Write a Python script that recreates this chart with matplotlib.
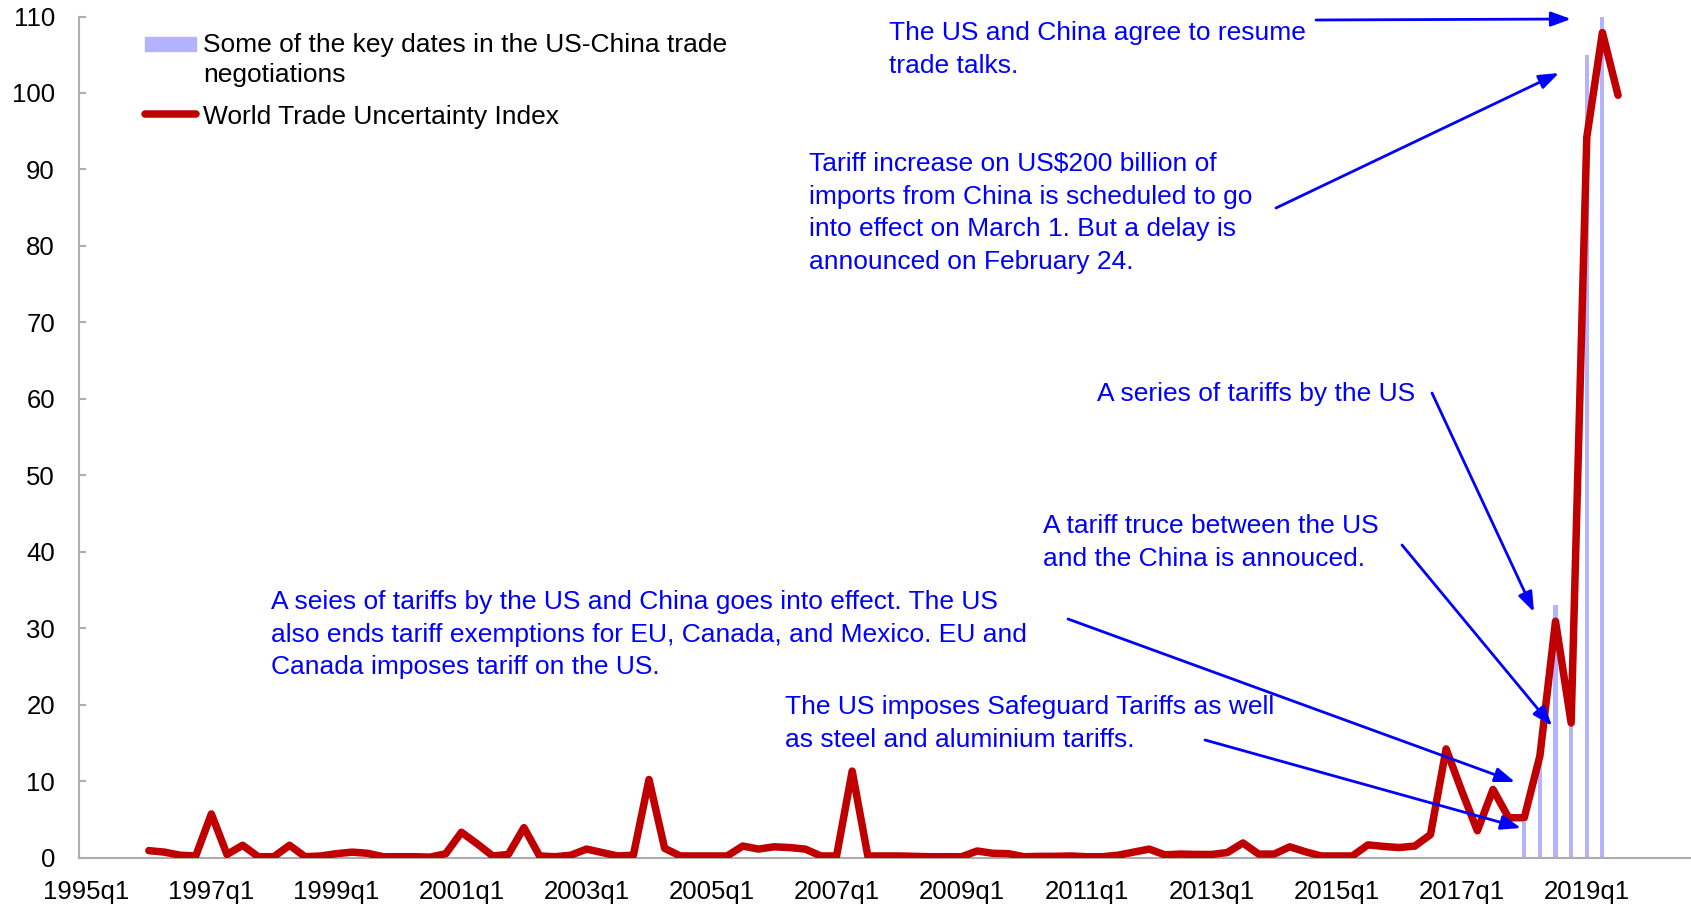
import matplotlib
matplotlib.use("Agg")
import matplotlib.pyplot as plt
from matplotlib.patches import Rectangle
from matplotlib.lines import Line2D
from matplotlib.legend_handler import HandlerPatch
import numpy as np

plt.rcParams['font.family'] = ['Liberation Sans', 'DejaVu Sans']

# ---------------- data ----------------
# category axis: quarters 1995q1 .. 2020q4
categories = [f"{y}q{q}" for y in range(1995, 2021) for q in range(1, 5)]

wtu_start = "1996q1"
wtu_values = [
    0.9, 0.7, 0.3, 0.2,        # 1996
    5.7, 0.4, 1.6, 0.1,        # 1997
    0.1, 1.6, 0.1, 0.2,        # 1998
    0.5, 0.7, 0.55, 0.1,       # 1999
    0.1, 0.1, 0.05, 0.5,       # 2000
    3.3, 1.8, 0.2, 0.4,        # 2001
    3.9, 0.2, 0.1, 0.3,        # 2002
    1.1, 0.65, 0.2, 0.3,       # 2003
    10.2, 1.2, 0.2, 0.2,       # 2004
    0.2, 0.2, 1.5, 1.1,        # 2005
    1.4, 1.3, 1.1, 0.2,        # 2006
    0.2, 11.3, 0.2, 0.2,       # 2007
    0.2, 0.15, 0.1, 0.1,       # 2008
    0.1, 0.85, 0.55, 0.5,      # 2009
    0.1, 0.15, 0.15, 0.2,      # 2010
    0.1, 0.1, 0.3, 0.7,        # 2011
    1.1, 0.35, 0.45, 0.4,      # 2012
    0.4, 0.65, 1.9, 0.45,      # 2013
    0.45, 1.4, 0.75, 0.2,      # 2014
    0.2, 0.2, 1.65, 1.45,      # 2015
    1.3, 1.5, 3.0, 14.2,       # 2016
    8.7, 3.5, 8.9, 5.2,        # 2017
    5.2, 13.3, 30.9, 17.6,     # 2018
    94.2, 107.9, 99.7,         # 2019
]

key_dates = ["2018q1", "2018q2", "2018q3", "2018q4", "2019q1", "2019q2"]
key_heights = [4.6, 13.0, 33.0, 17.5, 105.0, 110.0]

tick_labels = ["1995q1", "1997q1", "1999q1", "2001q1", "2003q1", "2005q1", "2007q1",
               "2009q1", "2011q1", "2013q1", "2015q1", "2017q1", "2019q1"]
y_ticks = [0, 10, 20, 30, 40, 50, 60, 70, 80, 90, 100, 110]

legend_labels = ["Some of the key dates in the US-China trade\nnegotiations",
                 "World Trade Uncertainty Index"]

annotation_texts = [
    "The US and China agree to resume\ntrade talks.",
    "Tariff increase on US$200 billion of\nimports from China is scheduled to go\n"
    "into effect on March 1. But a delay is\nannounced on February 24.",
    "A series of tariffs by the US",
    "A tariff truce between the US\nand the China is annouced.",
    "A seies of tariffs by the US and China goes into effect. The US\n"
    "also ends tariff exemptions for EU, Canada, and Mexico. EU and\n"
    "Canada imposes tariff on the US.",
    "The US imposes Safeguard Tariffs as well\nas steel and aluminium tariffs.",
]

# ---------------- layout ----------------
W, H = 1691, 907
AX_L, AX_R, AX_T, AX_B = 78.5, 1691.0, 16.5, 857.5
X0_PX, DX_PX = 86.3, 15.63          # pixel position of category 0 and step
Y_PX_PER_UNIT = (AX_B - AX_T) / 110.0

def px2data(px, py):
    return (px - X0_PX) / DX_PX, (AX_B - py) / Y_PX_PER_UNIT

# text anchor: (left px, first-line centre px)
text_pos = [(889, 31), (809, 162), (1097, 391.5), (1043, 524), (271, 600), (785, 705)]
# arrows: (tail px, head px)
arrow_pos = [((1316, 20), (1571, 19)),
             ((1276, 208), (1559, 73)),
             ((1432, 393), (1534, 612)),
             ((1402, 545), (1552, 726)),
             ((1068, 619), (1515, 782)),
             ((1205, 740), (1521, 828))]

BLUE = "#0000FF"
RED = "#C00000"
BAR = "#B3B3FF"
AXIS_GREY = "#ADADAD"
FS = 19

fig = plt.figure(figsize=(W / 100, H / 100), dpi=100)
ax = fig.add_axes([AX_L / W, 1 - AX_B / H, (AX_R - AX_L) / W, (AX_B - AX_T) / H])

idx = {c: i for i, c in enumerate(categories)}
wtu_x = idx[wtu_start] + np.arange(len(wtu_values))
key_x = [idx[d] for d in key_dates]

ax.bar(key_x, key_heights, width=0.26, color=BAR, zorder=1, linewidth=0)
ax.plot(wtu_x, wtu_values, color=RED, lw=5.4, solid_capstyle='round',
        solid_joinstyle='round', zorder=3)

ax.set_xlim(-0.5, (AX_R - X0_PX) / DX_PX)
ax.set_ylim(0, 110)
ax.set_yticks(y_ticks)
ax.set_xticks([idx[t] for t in tick_labels])
ax.set_xticklabels(tick_labels)

for s in ("top", "right"):
    ax.spines[s].set_visible(False)
for s in ("left", "bottom"):
    ax.spines[s].set_color(AXIS_GREY)
    ax.spines[s].set_linewidth(1.5)

ax.tick_params(axis='y', direction='in', length=5, width=1.5, color=AXIS_GREY,
               pad=17, labelsize=18.5)
ax.tick_params(axis='x', length=0, pad=16, labelsize=18.5)

# annotations
em_px = FS * 100 / 72
for (tx, ty), s in zip(text_pos, annotation_texts):
    x, y = px2data(tx, ty - 0.37 * em_px)
    ax.text(x, y, s, color=BLUE, fontsize=FS, ha='left', va='top',
            linespacing=1.45, zorder=5)

for tail, head in arrow_pos:
    ax.annotate("", xy=px2data(*head), xytext=px2data(*tail),
                arrowprops=dict(arrowstyle="-|>,head_length=0.6,head_width=0.22",
                                color=BLUE, lw=2, shrinkA=0, shrinkB=0,
                                mutation_scale=20), zorder=6)

# legend
def shifted_patch(legend, orig_handle, xdescent, ydescent, width, height, fontsize):
    h = 0.53 * fontsize
    cy = -ydescent + height / 2 + 0.6 * fontsize
    return Rectangle((-xdescent, cy - h / 2), width, h)

handles = [Rectangle((0, 0), 1, 1, color=BAR),
           Line2D([], [], color=RED, lw=5.4, solid_capstyle='round')]
leg = ax.legend(handles, legend_labels, loc='upper left',
                bbox_to_anchor=((145 - AX_L) / (AX_R - AX_L), (AX_B - 33) / (AX_B - AX_T)),
                frameon=False, fontsize=FS, handlelength=1.95, handletextpad=0.25,
                labelspacing=0.68, borderpad=0, borderaxespad=0,
                handler_map={Rectangle: HandlerPatch(patch_func=shifted_patch)})
for t in leg.get_texts():
    t.set_linespacing(1.3)

fig.savefig("out.png", dpi=100)
